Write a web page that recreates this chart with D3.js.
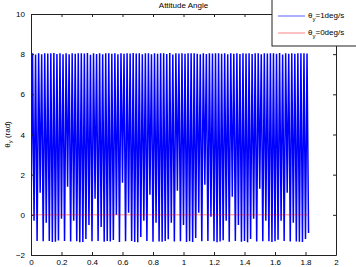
<!DOCTYPE html>
<html>
<head>
<meta charset="utf-8">
<script src="https://cdn.jsdelivr.net/npm/d3@7"></script>
<style>
  body { margin: 0; background: #fff; }
  svg text { font-family: "Liberation Sans", Arial, sans-serif; font-size: 8px; fill: #000; }
</style>
</head>
<body>
<div id="canvas"></div>
<script>
// sampled attitude angle, dt = 0.01 s
var dt = 0.01;
var thetaRate1 = [
  -0.2, 8.05, -0.3, 7.98, -1.3, 8.04, 1.1, 8.0, -1.32, 8.05, -0.4, 8.03, -1.3, 8.05, -1.35,
  8.06, -1.34, 8.01, -1.28, 8.05, -0.2, 8.0, -1.3, 8.05, 1.4, 7.99, -1.33, 8.04, -0.3, 8.02, -1.32, 8.05, -1.36,
  8.04, -1.35, 8.03, -1.2, 8.06, -0.5, 7.97, -1.31, 8.05, 0.8, 8.01, -1.3, 8.05, -0.6, 8.0, -1.34, 8.05, -1.3,
  8.05, -1.33, 8.02, -1.25, 8.04, 0.0, 8.0, -1.35, 8.05, 1.6, 8.02, -1.32, 8.05, 0.1, 8.03, -1.3, 8.06, -1.35,
  8.03, -1.36, 8.05, -1.1, 8.0, -0.3, 8.04, -1.3, 8.05, 1.0, 7.99, -1.34, 8.05, -0.4, 8.02, -1.33, 8.04, -1.34,
  8.05, -1.3, 8.01, -1.22, 8.06, -0.4, 7.98, -1.33, 8.05, 1.2, 8.03, -1.31, 8.04, -0.5, 8.02, -1.35, 8.05, -1.32,
  8.04, -1.35, 8.05, -1.15, 8.02, 0.1, 8.0, -1.32, 8.05, 1.5, 8.01, -1.3, 8.05, -0.1, 8.03, -1.31, 8.05, -1.36,
  8.05, -1.33, 8.02, -1.26, 8.04, -0.3, 7.99, -1.34, 8.05, 0.9, 8.02, -1.3, 8.05, -0.5, 8.01, -1.34, 8.04, -1.3,
  8.03, -1.36, 8.05, -1.2, 8.01, -0.2, 8.04, -1.33, 8.05, 1.3, 8.0, -1.31, 8.05, -0.3, 8.03, -1.32, 8.05, -1.35,
  8.05, -1.31, 8.02, -1.24, 8.06, -0.3, 7.98, -1.3, 8.05, 1.1, 8.02, -1.33, 8.04, -0.4, 8.02, -1.33, 8.05, -1.34,
  8.04, -1.35, 8.05, -1.2, 8.03, -0.9
];
var thetaRate0T = [0, 1.82];
var thetaRate0 = [0, 0];

var xTicks = [0, 0.2, 0.4, 0.6, 0.8, 1, 1.2, 1.4, 1.6, 1.8, 2];
var yTicks = [-2, 0, 2, 4, 6, 8, 10];
var legendLabels = ['=1deg/s', '=0deg/s'];
var legendColors = ['#3333ff', '#ff6666'];

var W = 356, H = 267;
var m = {t:14, r:20, b:12, l:31},
    w = W - m.l - m.r,
    h = H - m.t - m.b;

var svg = d3.select('#canvas')
    .append('svg')
    .attr('width', W)
    .attr('height', H);

var plot = svg.append('g').attr('class','plot')
    .attr('transform','translate('+ m.l+','+ m.t+')');

var x = d3.scaleLinear().domain([0, 2]).range([0, w]);
var y = d3.scaleLinear().domain([-2, 10]).range([h, 0]);

plot.append('defs').append('clipPath').attr('id','clip')
  .append('rect').attr('width', w).attr('height', h);

var line = d3.line()
  .x(function(d){ return x(d[0]); })
  .y(function(d){ return y(d[1]); });

var blueData = thetaRate1.map(function(v, i){ return [i*dt, v]; });
var redData = thetaRate0.map(function(v, i){ return [thetaRate0T[i], v]; });

var lines = plot.append('g').attr('clip-path','url(#clip)');
lines.append('path')
  .attr('d', line(blueData))
  .style('fill','none')
  .style('stroke','#0000ff')
  .style('stroke-width','1.5px');
lines.append('path')
  .attr('d', line(redData))
  .style('fill','none')
  .style('stroke','#ff0000')
  .style('stroke-width','0.6px')
  .style('opacity', 0.8);

// axes box with inward ticks
plot.append('g').attr('transform','translate(0,'+h+')')
  .call(d3.axisBottom(x).tickValues(xTicks).tickSizeInner(-3).tickSizeOuter(0).tickPadding(4).tickFormat(d3.format('')));
plot.append('g')
  .call(d3.axisTop(x).tickValues(xTicks).tickSizeInner(-3).tickSizeOuter(0).tickFormat(''));
plot.append('g')
  .call(d3.axisLeft(y).tickValues(yTicks).tickSizeInner(-3).tickSizeOuter(0).tickPadding(6));
plot.append('g').attr('transform','translate('+w+',0)')
  .call(d3.axisRight(y).tickValues(yTicks).tickSizeInner(-3).tickSizeOuter(0).tickFormat(''));

plot.selectAll('.domain').style('stroke','#222');
plot.selectAll('.tick line').style('stroke','#222');
plot.selectAll('.tick text').style('font-size','8px').style('font-family','"Liberation Sans", Arial, sans-serif');

// title
svg.append('text')
  .attr('x', m.l + w/2)
  .attr('y', 8)
  .attr('text-anchor','middle')
  .text('Attitude Angle');

// y label
var yl = svg.append('text')
  .attr('transform','translate(10,'+(m.t + h/2)+') rotate(-90)')
  .attr('text-anchor','middle');
yl.append('tspan').text('θ');
yl.append('tspan').attr('dy', 2).style('font-size','6px').text('y');
yl.append('tspan').attr('dy', -2).text(' (rad)');

// legend
var lg = svg.append('g').attr('transform','translate(272,-1)');
lg.append('rect')
  .attr('width', 90).attr('height', 47)
  .style('fill','#fff').style('stroke','#222').style('stroke-width','1px');
var items = lg.selectAll('.item').data(legendLabels).enter()
  .append('g').attr('transform', function(d, i){ return 'translate(0,' + (17 + i*17) + ')'; });
items.append('line')
  .attr('x1', 6).attr('x2', 33)
  .style('stroke', function(d, i){ return legendColors[i]; })
  .style('stroke-width','0.8px');
var lt = items.append('text').attr('x', 36).attr('y', 2);
lt.append('tspan').text('θ');
lt.append('tspan').attr('dy', 3).style('font-size','6px').text('y');
lt.append('tspan').attr('dy', -3).text(function(d){ return d; });
</script>
</body>
</html>
